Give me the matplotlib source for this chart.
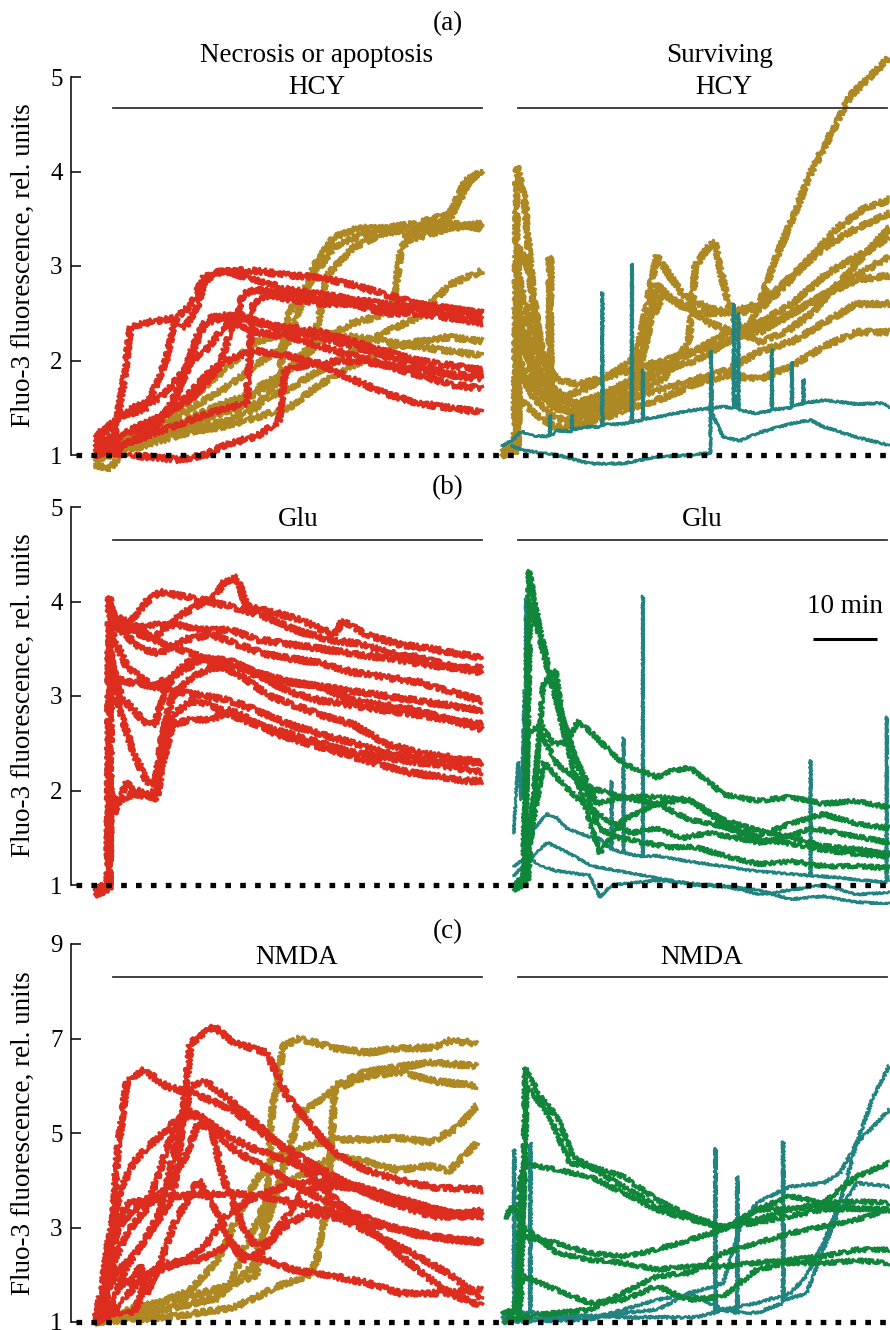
import numpy as np
import matplotlib.pyplot as plt
from matplotlib.lines import Line2D

plt.rcParams["font.family"] = ["Liberation Serif", "DejaVu Serif"]

RED = "#dc2d1e"
GOLD = "#ae8822"
TEAL = "#218480"
GREEN = "#10863a"

# ---- (a) HCY : necrosis or apoptosis, (t [min], F/F0) -----------------------
a_dead_red_1 = [(0, 1.1), (3, 1.2), (4.5, 1.8), (5.5, 2.35), (8, 2.4), (12, 2.45), (14, 2.35), (16, 2.6), (17, 2.85),
                (20, 2.95), (25, 2.95), (30, 2.9), (35, 2.88), (40, 2.8), (45, 2.7), (50, 2.6), (55, 2.55), (60, 2.5)]
a_dead_red_2 = [(0, 1.05), (8, 1.2), (12, 1.5), (14, 1.9), (16, 2.3), (18, 2.45), (22, 2.5), (25, 2.4), (30, 2.35),
                (35, 2.3), (40, 2.2), (45, 2.1), (50, 2.0), (55, 1.95), (60, 1.9)]
a_dead_red_3 = [(0, 1.0), (5, 1.1), (10, 1.35), (13, 1.7), (15, 2.0), (17, 2.1), (20, 2.35), (23, 2.45), (26, 2.4),
                (30, 2.3), (35, 2.25), (40, 2.15), (45, 2.05), (50, 1.95), (55, 1.85), (60, 1.8)]
a_dead_red_4 = [(0, 1.1), (5, 1.25), (10, 1.4), (15, 1.6), (19, 1.9), (21, 2.3), (23, 2.7), (25, 2.75), (30, 2.7),
                (35, 2.65), (40, 2.6), (45, 2.55), (50, 2.55), (55, 2.5), (60, 2.45)]
a_dead_red_5 = [(0, 1.05), (5, 1.0), (10, 0.97), (13, 0.95), (17, 1.0), (20, 1.1), (25, 1.2), (28.5, 1.35), (29.5, 1.9),
                (33, 1.95), (38, 2.0), (42, 1.98), (46, 1.95), (50, 1.9), (55, 1.85), (60, 1.85)]
a_dead_red_6 = [(0, 1.1), (8, 1.3), (14, 1.6), (18, 1.9), (22, 2.05), (25, 2.1), (30, 2.05), (35, 1.95), (40, 1.8),
                (45, 1.65), (50, 1.55), (55, 1.5), (60, 1.45)]
a_dead_red_7 = [(0, 1.15), (6, 1.5), (10, 1.6), (14, 1.9), (17, 2.4), (20, 2.45), (25, 2.3), (30, 2.25), (35, 2.15),
                (40, 2.05), (45, 1.95), (50, 1.85), (55, 1.75), (60, 1.7)]
a_dead_red_8 = [(0, 1.0), (6, 1.15), (12, 1.3), (18, 1.45), (23.5, 1.55), (24.5, 2.6), (27, 2.7), (30, 2.65),
                (35, 2.6), (40, 2.6), (45, 2.5), (50, 2.5), (55, 2.45), (60, 2.4)]
a_dead_red_9 = [(0, 1.2), (4, 1.4), (8, 1.5), (11, 2.0), (12.5, 2.45), (15, 2.6), (17, 2.9), (20, 2.95), (25, 2.85),
                (30, 2.75), (35, 2.7), (40, 2.65), (45, 2.6), (50, 2.55), (55, 2.55), (60, 2.5)]

a_dead_gold_1 = [(0, 0.95), (5, 1.15), (10, 1.3), (15, 1.5), (20, 1.7), (25, 1.95), (30, 2.2), (32, 2.6), (34, 3.0),
                 (37, 3.3), (40.5, 3.4), (45, 3.4), (50, 3.45), (55, 3.55), (57.5, 3.9), (60, 4.0)]
a_dead_gold_2 = [(0, 0.9), (2.3, 0.85), (5, 1.1), (10, 1.2), (15, 1.35), (20, 1.5), (25, 1.7), (30, 1.9), (34, 2.2),
                 (36, 2.9), (40, 3.2), (45, 3.35), (50, 3.4), (55, 3.45), (60, 3.4)]
a_dead_gold_3 = [(0, 1.0), (5, 1.1), (10, 1.25), (15, 1.4), (20, 1.55), (25, 1.65), (30, 1.9), (35, 2.2), (40, 2.4),
                 (46, 2.5), (47.5, 3.2), (50, 3.35), (55, 3.5), (58, 3.9), (60, 4.0)]
a_dead_gold_4 = [(0, 1.0), (5, 1.15), (10, 1.25), (15, 1.35), (20, 1.45), (25, 1.55), (30, 1.7), (35, 1.9), (40, 2.1),
                 (45, 2.3), (50, 2.45), (52, 2.6), (55, 2.8), (60, 2.95)]
a_dead_gold_5 = [(0, 0.95), (5, 1.05), (10, 1.15), (15, 1.25), (20, 1.3), (25, 1.4), (30, 1.5), (35, 1.75), (40, 1.95),
                 (45, 2.1), (50, 2.2), (55, 2.25), (60, 2.2)]
a_dead_gold_6 = [(0, 1.05), (5, 1.2), (10, 1.35), (15, 1.6), (20, 1.9), (25, 2.2), (30, 2.3), (35, 2.3), (40, 2.25),
                 (45, 2.2), (50, 2.15), (55, 2.1), (60, 2.05)]
a_dead_gold_7 = [(0, 1.0), (5, 1.1), (10, 1.2), (15, 1.3), (20, 1.35), (25, 1.5), (28.5, 1.8), (30, 2.5), (33, 2.8),
                 (37, 3.2), (40, 3.3), (45, 3.4), (50, 3.3), (55, 3.4), (60, 3.45)]

# ---- (a) HCY : surviving --------------------------------------------------
a_surv_gold_1 = [(0, 1.05), (2.0, 1.1), (2.3, 4.05), (3.5, 3.7), (4.8, 2.7), (6.4, 2.0), (8.5, 1.8), (12, 1.75),
                 (15, 1.8), (20, 1.9), (25, 2.0), (30, 2.1), (35, 2.3), (40, 2.4), (45, 2.6), (50, 2.9), (55, 3.1),
                 (60, 3.3)]
a_surv_gold_2 = [(0, 1.0), (2.2, 1.05), (2.5, 3.2), (4, 3.0), (6, 2.1), (8, 1.7), (11, 1.55), (15, 1.6), (20, 1.7),
                 (25, 1.9), (30, 2.0), (35, 2.2), (40, 2.35), (45, 2.5), (50, 2.7), (55, 2.85), (60, 2.9)]
a_surv_gold_3 = [(0, 1.0), (2.3, 1.1), (2.6, 2.2), (5, 1.9), (8, 1.6), (12, 1.55), (16, 1.65), (20, 1.8), (25, 1.95),
                 (30, 2.1), (35, 2.2), (38, 2.3), (40, 2.6), (42, 3.0), (45, 3.5), (48, 4.0), (51, 4.4), (54, 4.8),
                 (57, 5.0), (60, 5.2)]
a_surv_gold_4 = [(0, 1.05), (2.3, 1.1), (2.5, 2.6), (5, 2.0), (8, 1.6), (12, 1.5), (16, 1.6), (20, 1.75),
                 (22.5, 2.6), (24, 3.1), (26, 2.9), (28, 2.7), (32, 2.55), (36, 2.5), (40, 2.55), (44, 2.8), (48, 3.1),
                 (52, 3.4), (56, 3.6), (60, 3.7)]
a_surv_gold_5 = [(0, 1.0), (2.3, 1.05), (2.5, 2.4), (5, 1.8), (8, 1.5), (12, 1.45), (16, 1.55), (20, 1.65), (25, 1.8),
                 (29, 2.2), (30, 3.0), (32, 3.2), (33, 3.25), (35, 2.6), (37, 2.3), (40, 2.2), (44, 2.3), (48, 2.5),
                 (52, 2.8), (56, 3.1), (60, 3.4)]
a_surv_gold_6 = [(0, 1.0), (2.4, 1.1), (2.6, 1.9), (5, 1.6), (8, 1.4), (12, 1.35), (16, 1.45), (20, 1.55), (23, 2.4),
                 (25, 2.7), (28, 2.6), (32, 2.4), (36, 2.3), (40, 2.3), (45, 2.5), (50, 2.7), (55, 2.9), (60, 3.1)]
a_surv_gold_7 = [(0, 1.0), (2.4, 1.05), (2.6, 1.6), (5, 1.45), (8, 1.3), (12, 1.3), (16, 1.4), (20, 1.5), (25, 1.6),
                 (30, 1.75), (35, 1.85), (40, 1.8), (45, 1.95), (50, 2.15), (55, 2.3), (60, 2.3)]
a_surv_gold_8 = [(0, 1.05), (2.3, 1.1), (2.5, 2.9), (4, 2.5), (6, 1.9), (9, 1.6), (13, 1.7), (18, 1.9), (22, 2.1),
                 (24, 2.8), (27, 2.6), (31, 2.5), (35, 2.5), (40, 2.6), (45, 2.9), (50, 3.2), (55, 3.4), (60, 3.55)]
a_surv_gold_9 = [(0, 1.0), (2.4, 1.1), (2.6, 2.0), (5, 1.7), (7.4, 1.55), (7.45, 3.1), (7.5, 1.55), (12, 1.4),
                 (16, 1.5), (20, 1.6), (25, 1.7), (30, 1.8), (35, 1.9), (40, 2.1), (45, 2.2), (50, 2.4), (55, 2.6),
                 (60, 2.6)]

a_surv_teal_1 = [(0, 1.1), (1.5, 1.15), (3, 1.25), (5, 1.2), (7.4, 1.2), (7.45, 1.42), (7.5, 1.2), (8.5, 1.26),
                 (10.8, 1.25), (10.85, 1.42), (10.9, 1.27), (13.6, 1.3), (15.5, 1.3), (15.55, 2.72), (15.6, 1.32),
                 (18.8, 1.33), (20.1, 1.35), (20.15, 3.02), (20.2, 1.35), (21.8, 1.37), (21.85, 1.9), (21.9, 1.38),
                 (24, 1.4), (29, 1.47), (34.3, 1.51), (35.9, 1.5), (35.95, 2.6), (36.0, 1.5), (36.6, 1.5),
                 (36.65, 2.5), (36.7, 1.48), (39.5, 1.44), (41.8, 1.47), (41.85, 2.12), (41.9, 1.48), (44.9, 1.5),
                 (44.95, 1.98), (45.0, 1.52), (46.7, 1.54), (46.75, 1.8), (46.8, 1.55), (50, 1.58), (55, 1.54),
                 (59, 1.55), (60, 1.5)]
a_surv_teal_2 = [(1.5, 1.1), (3.3, 1.05), (8.5, 1.0), (13.6, 0.91), (18.8, 0.91), (24, 0.98), (29, 1.0),
                 (32.3, 1.02), (32.4, 2.1), (32.6, 1.44), (34.3, 1.19), (36.9, 1.15), (39.5, 1.23), (44.7, 1.33),
                 (47.8, 1.37), (49.8, 1.3), (55, 1.19), (59, 1.12), (60, 1.1)]

# ---- (b) Glu : necrosis or apoptosis --------------------------------------
b_dead_red_1 = [(0, 0.97), (1.5, 0.95), (2.0, 1.0), (2.2, 4.05), (3, 3.8), (5, 3.75), (8, 4.0), (10, 4.1), (14, 4.05),
                (18, 4.0), (20, 4.2), (22, 4.25), (23.5, 3.95), (27, 3.9), (32, 3.8), (37, 3.65), (38.5, 3.8),
                (42, 3.65), (47, 3.55), (52, 3.5), (56, 3.45), (60, 3.4)]
b_dead_red_2 = [(0, 0.97), (2.0, 1.0), (2.2, 3.6), (3, 3.85), (6, 3.75), (9, 3.6), (13, 3.85), (17, 4.0), (21, 3.95),
                (26, 3.85), (31, 3.7), (36, 3.6), (41, 3.55), (46, 3.45), (51, 3.4), (56, 3.3), (60, 3.25)]
b_dead_red_3 = [(0, 0.95), (2.1, 1.0), (2.3, 3.8), (4, 3.7), (7, 3.5), (10, 3.45), (14, 3.6), (18, 3.65), (22, 3.55),
                (26, 3.45), (30, 3.4), (35, 3.35), (40, 3.25), (45, 3.2), (50, 3.15), (55, 3.05), (60, 2.95)]
b_dead_red_4 = [(0, 0.95), (2.2, 1.0), (2.4, 3.5), (4, 2.8), (6, 2.4), (8, 2.1), (9.3, 2.05), (10.5, 2.6), (12, 3.0),
                (15, 3.2), (18, 3.3), (22, 3.3), (26, 3.2), (30, 3.15), (35, 3.1), (40, 3.05), (45, 3.0), (50, 2.95),
                (55, 2.9), (60, 2.85)]
b_dead_red_5 = [(0, 0.97), (2.2, 1.0), (2.4, 3.4), (4, 3.0), (6, 2.85), (8, 2.7), (9.3, 2.7), (11, 3.1), (14, 3.35),
                (18, 3.4), (22, 3.35), (26, 3.2), (30, 3.05), (35, 2.95), (40, 2.9), (45, 2.85), (50, 2.8),
                (55, 2.75), (60, 2.7)]
b_dead_red_6 = [(0, 0.95), (2.2, 0.97), (2.4, 2.0), (3, 1.75), (4, 1.95), (5, 2.1), (6, 1.95), (8, 1.95), (9.5, 2.0),
                (10.5, 2.5), (12, 2.8), (15, 2.95), (18, 2.9), (21, 2.8), (25, 2.7), (30, 2.6), (35, 2.5), (40, 2.4),
                (45, 2.35), (50, 2.3), (55, 2.25), (60, 2.2)]
b_dead_red_7 = [(0, 0.9), (2.2, 0.95), (2.4, 1.9), (4, 1.9), (7, 2.0), (9.5, 1.9), (10.5, 2.3), (12, 2.7), (15, 2.75),
                (18, 2.75), (21, 2.85), (24, 2.75), (28, 2.6), (33, 2.5), (38, 2.4), (43, 2.3), (48, 2.2),
                (53, 2.15), (58, 2.1), (60, 2.1)]
b_dead_red_8 = [(0, 0.97), (2.2, 1.0), (2.4, 3.9), (5, 3.7), (9, 3.6), (13, 3.5), (17, 3.4), (21, 3.35), (25, 3.25),
                (30, 3.15), (35, 3.1), (40, 2.95), (45, 2.9), (50, 2.85), (55, 2.75), (60, 2.65)]
b_dead_red_9 = [(0, 0.97), (2.2, 1.0), (2.4, 3.7), (5, 3.3), (9, 3.1), (13, 3.05), (17, 3.0), (21, 2.95), (25, 2.85),
                (30, 2.7), (35, 2.6), (40, 2.5), (45, 2.4), (50, 2.35), (55, 2.3), (60, 2.3)]
b_dead_red_10 = [(0, 0.97), (2.2, 1.0), (2.4, 3.75), (5, 3.7), (9, 3.75), (13, 3.75), (17, 3.7), (21, 3.7),
                 (25, 3.6), (30, 3.55), (35, 3.5), (40, 3.45), (45, 3.4), (50, 3.35), (55, 3.3), (60, 3.3)]
b_dead_red_11 = [(0, 0.95), (2.2, 1.0), (2.4, 3.2), (5, 3.15), (9, 3.1), (13, 3.25), (17, 3.4), (20, 3.3),
                 (23, 3.2), (27, 3.0), (31, 2.9), (35, 2.8), (40, 2.7), (45, 2.5), (50, 2.4), (55, 2.35), (60, 2.3)]

# ---- (b) Glu : surviving --------------------------------------------------
b_surv_green_1 = [(1.8, 0.95), (3.3, 1.0), (4.2, 4.33), (5.9, 3.7), (8.5, 2.92), (11.1, 2.22), (15.2, 1.34),
                  (18.8, 1.69), (24, 1.86), (29.1, 1.69), (34.3, 1.62), (39.5, 1.48), (44.7, 1.44), (49.8, 1.37),
                  (55, 1.33), (60, 1.3)]
b_surv_green_2 = [(1.8, 1.0), (3.5, 1.1), (4.4, 3.98), (7.4, 3.2), (11.1, 2.39), (14.7, 1.86), (18.8, 1.93),
                  (24, 1.93), (29.1, 1.9), (34.3, 1.69), (39.5, 1.58), (44.7, 1.51), (49.8, 1.41), (55, 1.38),
                  (60, 1.33)]
b_surv_green_3 = [(3.5, 1.2), (4.0, 2.6), (6, 2.7), (8, 2.5), (10, 2.5), (11.8, 2.74), (14, 2.6), (18.8, 2.28),
                  (22, 2.2), (24, 2.14), (26, 2.2), (29.1, 2.24), (32, 2.1), (34.3, 1.96), (39.5, 1.89),
                  (44.7, 1.93), (49.8, 1.86), (55, 1.89), (60, 1.82)]
b_surv_green_4 = [(3.5, 1.0), (5.9, 2.63), (8.5, 2.28), (13.6, 2.03), (18.8, 1.93), (24, 1.86), (29.1, 1.9),
                  (34.3, 1.65), (39.5, 1.51), (44.7, 1.65), (49.8, 1.75), (55, 1.65), (60, 1.6)]
b_surv_green_5 = [(4, 1.05), (6.4, 3.13), (8.3, 3.27), (9.3, 2.8), (12, 2.2), (15, 1.6), (18, 1.5), (22, 1.45),
                  (26, 1.4), (30, 1.4), (35, 1.3), (40, 1.22), (45, 1.25), (50, 1.2), (55, 1.2), (60, 1.18)]
b_surv_green_6 = [(3, 1.0), (6.5, 2.3), (9, 2.1), (12, 1.9), (16, 1.7), (20, 1.55), (24, 1.6), (28, 1.5), (32, 1.55),
                  (36, 1.5), (40, 1.45), (44, 1.5), (48, 1.6), (52, 1.55), (56, 1.5), (60, 1.45)]

b_surv_teal_1 = [(1.8, 1.55), (2.5, 2.3), (3.0, 1.9), (3.5, 3.06), (3.6, 1.5), (3.7, 4.05), (3.8, 1.4), (5, 1.6),
                 (7, 1.75), (8.5, 1.71), (10, 1.6), (13.6, 1.51), (15, 1.5), (16.9, 1.38), (17, 2.1), (17.1, 1.38),
                 (18.8, 1.34), (18.85, 2.56), (18.9, 1.34), (21.8, 1.3), (21.85, 4.06), (21.9, 1.3), (24, 1.31),
                 (29, 1.25), (34, 1.2), (39, 1.15), (44, 1.12), (47.8, 1.1), (47.85, 2.32), (47.9, 1.1),
                 (52, 1.08), (56, 1.05), (59.6, 1.03), (59.65, 2.78), (59.7, 1.1), (60, 1.05)]
b_surv_teal_2 = [(1.8, 1.2), (4, 1.3), (6, 1.2), (8.5, 1.15), (13.6, 1.1), (15.2, 0.87), (17, 1.0), (24, 1.05),
                 (29, 1.02), (34.3, 0.99), (39.5, 0.95), (44.7, 0.85), (49.8, 0.88), (55, 0.82), (60, 0.8)]
b_surv_teal_3 = [(1.8, 1.1), (4, 1.25), (7, 1.45), (10, 1.35), (14, 1.2), (18, 1.15), (22, 1.1), (26, 1.05),
                 (30, 1.0), (35, 0.98), (40, 0.9), (45, 0.95), (50, 1.0), (55, 0.9), (60, 0.92)]

# ---- (c) NMDA : necrosis or apoptosis -------------------------------------
c_dead_red_1 = [(0, 1.0), (0.8, 1.05), (2.3, 2.0), (3.4, 4.5), (4.9, 6.06), (7.5, 6.34), (11.1, 5.99), (16.3, 5.78),
                (21.4, 5.49), (26.6, 4.93), (31.8, 4.5), (37, 4.08), (42.1, 3.73), (47.3, 3.45), (52.5, 3.24),
                (60, 3.24)]
c_dead_red_2 = [(0, 1.0), (1, 1.2), (3, 2.0), (6, 2.4), (9, 3.0), (12, 3.6), (13.2, 4.8), (14.8, 6.9), (18.4, 7.25),
                (21.4, 6.93), (26.6, 6.7), (29.7, 5.8), (34.4, 5.0), (37, 4.6), (42.1, 4.2), (47.3, 4.0),
                (52.5, 3.85), (60, 3.8)]
c_dead_red_3 = [(0, 1.0), (1.5, 1.5), (3, 3.0), (5, 3.5), (8, 3.6), (11, 3.8), (14, 4.5), (16, 5.2), (18, 5.1),
                (20, 4.0), (23, 3.0), (25, 2.6), (27, 2.7), (30, 3.3), (32, 3.7), (35, 3.9), (40, 3.85), (45, 3.6),
                (50, 3.4), (55, 3.3), (60, 3.25)]
c_dead_red_4 = [(0, 1.0), (2, 1.8), (3.5, 3.0), (6, 3.38), (11.1, 3.66), (21.4, 3.73), (31.8, 3.52), (42.1, 3.1),
                (52.5, 2.81), (60, 2.67)]
c_dead_red_5 = [(0, 1.0), (2, 1.2), (4, 1.4), (7, 1.9), (11.1, 2.25), (16.3, 2.32), (21.4, 2.67), (23, 2.4),
                (26.6, 2.32), (30.7, 2.1), (37, 1.97), (42.1, 1.83), (47.3, 1.61), (52.5, 1.61), (60, 1.68)]
c_dead_red_6 = [(0, 1.0), (1.5, 1.1), (3, 1.5), (5, 2.2), (8, 2.8), (10, 3.3), (13, 5.0), (15, 6.0), (17, 6.1),
                (20, 5.8), (25, 5.2), (30, 4.6), (34, 4.0), (38, 3.5), (44, 2.8), (50, 2.1), (55, 1.6), (60, 1.35)]
c_dead_red_7 = [(0, 1.0), (1.2, 1.8), (2.3, 2.9), (4, 3.8), (6, 4.4), (9, 4.8), (12, 5.2), (15, 5.4), (18, 5.1),
                (22, 4.6), (26, 4.3), (30, 4.0), (35, 3.6), (40, 3.3), (45, 3.05), (50, 2.85), (55, 2.75), (60, 2.7)]
c_dead_red_8 = [(0, 1.05), (1.5, 1.3), (3, 2.3), (5, 2.9), (8, 3.4), (10, 4.2), (12, 5.0), (14, 5.5), (17, 5.3),
                (20, 5.0), (24, 4.7), (28, 4.5), (32, 4.3), (37, 4.0), (42, 3.8), (47, 3.6), (52, 3.4), (56, 3.3),
                (60, 3.35)]
c_dead_red_9 = [(0, 1.0), (2, 1.3), (4, 1.8), (6, 1.9), (7, 2.2), (8, 1.6), (10, 2.2), (12, 3.0), (14, 3.5), (16, 4.0),
                (19, 3.3), (21, 2.7), (23, 2.3), (26, 2.5), (29, 3.0), (33, 3.3), (38, 3.2), (44, 2.8), (50, 2.4),
                (55, 2.0), (60, 1.5)]
c_dead_red_10 = [(0, 1.0), (3, 1.2), (6, 1.2), (7, 1.5), (8, 2.0), (10, 2.1), (14, 2.3), (17, 2.6), (20, 3.2),
                 (24, 3.6), (30, 3.9), (35, 4.0), (40, 3.9), (45, 3.7), (50, 3.5), (55, 3.3), (60, 3.3)]

c_dead_gold_1 = [(0, 1.0), (5.8, 1.3), (13.6, 1.5), (21.4, 1.8), (25, 2.0), (26.6, 3.5), (27.5, 5.5), (29.2, 6.84),
                 (31.8, 7.0), (37, 6.8), (42.1, 6.7), (47.3, 6.8), (52.5, 6.8), (55, 6.95), (59.2, 6.9)]
c_dead_gold_2 = [(0, 1.0), (8.5, 1.2), (18.9, 1.5), (24.5, 2.2), (27.6, 3.5), (29.7, 4.5), (31.8, 5.4), (37, 5.92),
                 (42.1, 6.2), (47.3, 6.3), (52.5, 6.1), (59.2, 6.0)]
c_dead_gold_3 = [(0, 1.0), (11.1, 1.1), (21.4, 1.3), (29.2, 1.8), (33.3, 2.0), (34.4, 2.32), (36, 3.5), (37.2, 6.0),
                 (42.1, 6.3), (47.3, 6.4), (52.5, 6.5), (59.2, 6.41)]
c_dead_gold_4 = [(0, 1.05), (5, 1.2), (10, 1.4), (15, 1.7), (19, 2.3), (22, 3.2), (25, 4.0), (28, 4.5), (32, 4.7),
                 (37, 4.86), (42, 4.86), (47, 4.9), (52, 4.8), (56, 5.1), (59.2, 5.56)]
c_dead_gold_5 = [(0, 1.0), (6, 1.1), (12, 1.3), (18, 1.5), (21, 1.8), (23, 2.5), (26, 3.4), (29, 3.9), (33, 4.2),
                 (37, 4.5), (42, 4.4), (47, 4.22), (52, 4.3), (55, 4.2), (59.2, 4.79)]

# ---- (c) NMDA : surviving -------------------------------------------------
c_surv_green_1 = [(0, 1.2), (2, 1.25), (3.3, 3.5), (3.6, 6.38), (5.9, 5.78), (8.5, 5.35), (11.1, 4.5), (13.6, 4.3),
                  (18.8, 4.08), (24, 3.59), (29.1, 3.24), (34.3, 3.02), (39.5, 3.17), (44.7, 3.38), (49.8, 3.52),
                  (55, 4.08), (60, 4.36)]
c_surv_green_2 = [(0.5, 1.0), (2.5, 1.3), (3.5, 4.0), (3.8, 5.99), (7.4, 5.35), (10.5, 4.36), (13.6, 4.29),
                  (18.8, 3.87), (24, 3.45), (29.1, 3.24), (34.3, 2.95), (39.5, 3.38), (44.7, 3.4), (49.8, 3.45),
                  (55, 3.4), (60, 3.38)]
c_surv_green_3 = [(2.5, 1.2), (2.8, 4.0), (3.5, 4.36), (8.5, 4.22), (13.6, 4.08), (18.8, 3.73), (24, 3.38),
                  (29.1, 3.17), (34.3, 3.02), (39.5, 3.1), (44.7, 3.24), (49.8, 3.38), (55, 3.4), (60, 3.38)]
c_surv_green_4 = [(0.5, 3.2), (1.5, 3.45), (2.5, 3.3), (3.3, 2.8), (8.5, 2.67), (13.6, 2.46), (18.8, 2.39),
                  (24, 2.53), (29.1, 2.74), (34.3, 2.95), (39.5, 3.38), (44.7, 3.66), (49.8, 3.52), (55, 3.55),
                  (60, 3.52)]
c_surv_green_5 = [(2.5, 1.1), (3.3, 3.02), (8.5, 2.46), (13.6, 2.32), (18.8, 2.25), (24, 2.11), (29.1, 2.18),
                  (34.3, 2.18), (39.5, 2.25), (44.7, 2.32), (49.8, 2.39), (55, 2.53), (60, 2.53)]
c_surv_green_6 = [(2.5, 1.05), (3.3, 1.97), (8.5, 1.68), (13.6, 1.4), (18.8, 1.47), (24, 1.76), (29.1, 1.47),
                  (34.3, 1.54), (39.5, 2.11), (44.7, 2.25), (49.8, 2.25), (55, 2.3), (60, 2.25)]
c_surv_green_7 = [(0.2, 1.0), (3.3, 1.12), (13.6, 1.26), (24, 1.97), (29.1, 2.04), (34.3, 2.46), (39.5, 2.67),
                  (44.7, 2.88), (49.8, 3.02), (55, 3.17), (60, 3.38)]

c_surv_teal_1 = [(0.2, 1.05), (13.6, 1.12), (24, 1.26), (29.1, 1.61), (34.3, 1.26), (39.5, 1.4), (44.7, 1.61),
                 (47.2, 1.97), (49.8, 2.67), (52.4, 3.52), (55, 4.79), (57.6, 5.78), (60, 6.41)]
c_surv_teal_2 = [(0.2, 1.0), (13.6, 1.05), (24, 1.47), (29.1, 1.61), (34.3, 1.82), (36.9, 3.02), (39.5, 3.52),
                 (44.7, 3.87), (49.8, 3.94), (52.4, 4.15), (55, 4.79), (57.6, 5.14), (60, 5.49)]
c_surv_teal_3 = [(0, 1.1), (1.85, 1.15), (1.9, 4.65), (1.95, 1.2), (4.35, 1.2), (4.4, 4.79), (4.45, 1.2), (10, 1.15),
                 (20, 1.1), (30, 1.1), (33.05, 1.2), (33.1, 4.68), (33.15, 1.2), (34.3, 1.26), (36.45, 1.2),
                 (36.5, 4.08), (36.55, 1.2), (39.5, 1.19), (43.55, 1.4), (43.6, 4.82), (43.65, 1.45), (47.2, 1.61),
                 (49.8, 2.53), (52.4, 3.38), (55, 3.94), (60, 3.87)]

# ---------------------------------------------------------------------------
W, H = 890, 1330
SHIFT = 63.1          # right-hand (surviving) group starts 63.1 min later on the x scale
XLIM = (-3.72, 123.26)

fig = plt.figure(figsize=(W / 100, H / 100), dpi=100)


def rect(top, bot):
    return [71 / W, 1 - bot / H, (W - 71) / W, (bot - top) / H]


def ftxt(x, y, s, **kw):
    fig.text(x / W, 1 - y / H, s, ha="center", va="center", fontsize=19.5, **kw)


def hbar(x0, x1, y):
    fig.add_artist(Line2D([x0 / W, x1 / W], [1 - y / H] * 2, color="#333333", lw=1.3))


def draw(ax, traces, color, lw, shift=0.0, z=2, wiggle=3.0):
    # the recordings are noisy; a sketch style gives the traces a jagged look
    for tr in traces:
        t, y = np.array(tr).T
        ln, = ax.plot(t + shift, y, color=color, lw=lw, zorder=z, solid_joinstyle="round")
        ln.set_sketch_params(wiggle, 2.0, 2.0)


def style(ax, ylim, ticks):
    ax.set_xlim(*XLIM)
    ax.set_ylim(*ylim)
    for s in ("top", "right", "bottom"):
        ax.spines[s].set_visible(False)
    ax.spines["left"].set_bounds(ticks[0], ticks[-1])
    ax.spines["left"].set_linewidth(1.1)
    ax.set_xticks([])
    ax.set_yticks(ticks)
    ax.tick_params(axis="y", direction="in", length=7, width=1.1, labelsize=18, pad=6)
    ax.patch.set_alpha(0)
    ax.axhline(1, xmin=5 / 819, xmax=1, color="black", lw=3.8, ls=(0, (1.07, 1.75)),
               dash_capstyle="butt", zorder=10)


# (a) ----
ax_a = fig.add_axes(rect(40, 472))
draw(ax_a, [a_dead_gold_1, a_dead_gold_2, a_dead_gold_3, a_dead_gold_4, a_dead_gold_5, a_dead_gold_6,
            a_dead_gold_7], GOLD, 2.5)
draw(ax_a, [a_dead_red_1, a_dead_red_2, a_dead_red_3, a_dead_red_4, a_dead_red_5, a_dead_red_6, a_dead_red_7,
            a_dead_red_8, a_dead_red_9], RED, 2.5, z=3)
draw(ax_a, [a_surv_gold_1, a_surv_gold_2, a_surv_gold_3, a_surv_gold_4, a_surv_gold_5, a_surv_gold_6,
            a_surv_gold_7, a_surv_gold_8, a_surv_gold_9], GOLD, 2.5, SHIFT)
draw(ax_a, [a_surv_teal_1, a_surv_teal_2], TEAL, 2.0, SHIFT, z=3, wiggle=1.0)
style(ax_a, (1 + (455 - 472) / 94.5, 1 + (455 - 40) / 94.5), [1, 2, 3, 4, 5])

# (b) ----
ax_b = fig.add_axes(rect(507, 905))
draw(ax_b, [b_dead_red_1, b_dead_red_2, b_dead_red_3, b_dead_red_4, b_dead_red_5, b_dead_red_6, b_dead_red_7,
            b_dead_red_8, b_dead_red_9, b_dead_red_10, b_dead_red_11], RED, 2.5)
draw(ax_b, [b_surv_teal_1, b_surv_teal_2, b_surv_teal_3], TEAL, 1.9, SHIFT, wiggle=1.0)
draw(ax_b, [b_surv_green_1, b_surv_green_2, b_surv_green_3, b_surv_green_4, b_surv_green_5, b_surv_green_6],
     GREEN, 2.2, SHIFT, z=3, wiggle=2.2)
style(ax_b, (1 + (885 - 905) / 94.5, 5), [1, 2, 3, 4, 5])
# 10 min scale bar
ax_b.plot([111.3, 121.3], [3.6, 3.6], color="black", lw=2.2, solid_capstyle="butt")
ax_b.text(116.3, 3.95, "10 min", ha="center", va="center", fontsize=19.5)

# (c) ----
ax_c = fig.add_axes(rect(944, 1330))
draw(ax_c, [c_dead_gold_1, c_dead_gold_2, c_dead_gold_3, c_dead_gold_4, c_dead_gold_5], GOLD, 2.5)
draw(ax_c, [c_dead_red_1, c_dead_red_2, c_dead_red_3, c_dead_red_4, c_dead_red_5, c_dead_red_6, c_dead_red_7,
            c_dead_red_8, c_dead_red_9, c_dead_red_10], RED, 2.5, z=3)
draw(ax_c, [c_surv_teal_1, c_surv_teal_2, c_surv_teal_3], TEAL, 1.9, SHIFT, wiggle=1.4)
draw(ax_c, [c_surv_green_1, c_surv_green_2, c_surv_green_3, c_surv_green_4, c_surv_green_5, c_surv_green_6,
            c_surv_green_7], GREEN, 2.2, SHIFT, z=3, wiggle=2.2)
style(ax_c, (1 + (1322 - 1330) / 47.25, 9), [1, 3, 5, 7, 9])

# labels -------------------------------------------------------------------
ylab = "Fluo-3 fluorescence, rel. units"
for yc in (265, 695, 1133):
    ftxt(23, yc, ylab, rotation=90)

ftxt(448, 24, "(a)")
ftxt(448, 488, "(b)")
ftxt(448, 932, "(c)")
ftxt(317, 55, "Necrosis or apoptosis")
ftxt(720, 55, "Surviving")
ftxt(317, 87, "HCY")
ftxt(724, 87, "HCY")
ftxt(298, 520, "Glu")
ftxt(702, 520, "Glu")
ftxt(297, 957, "NMDA")
ftxt(702, 957, "NMDA")
for y in (108, 540, 977):
    hbar(113, 482, y)
    hbar(518, 887, y)

fig.savefig("out.png", dpi=100)
